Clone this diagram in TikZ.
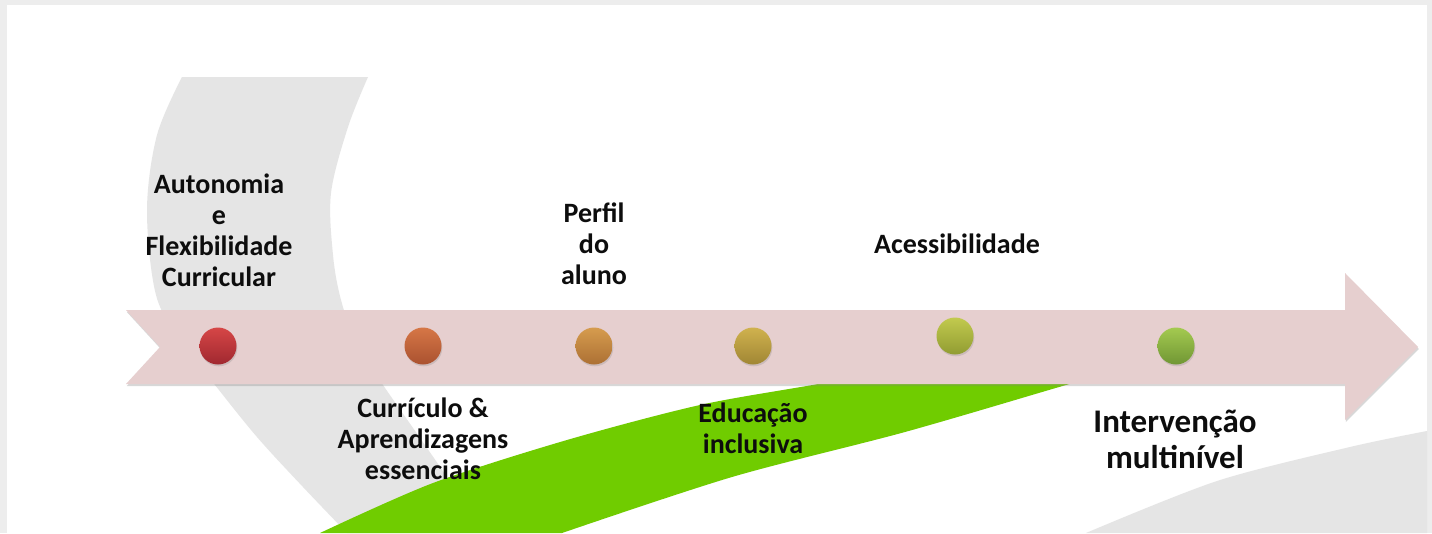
\documentclass[tikz,border=0pt]{standalone}
\usepackage{fontspec}
\setmainfont{Carlito}
\usetikzlibrary{shadows}
\definecolor{framec}{HTML}{EDEDED}
\definecolor{bandc}{HTML}{E5E5E5}
\definecolor{pinkc}{HTML}{E6CFCF}
\definecolor{greenc}{HTML}{70CC00}
\begin{document}
\begin{tikzpicture}[x=1pt,y=-1pt,
  lbl/.style={font=\fontsize{28}{31}\selectfont\bfseries, align=center, inner sep=0pt, anchor=base, text=black!95},
  biglbl/.style={font=\fontsize{33}{35.7}\selectfont\bfseries, align=center, inner sep=0pt, anchor=base, text=black!95},
  dot/.style={circle, minimum size=37pt, inner sep=0pt,
    drop shadow={shadow xshift=0.8pt, shadow yshift=-1.8pt, opacity=0.25}}]
\useasboundingbox (0,0) rectangle (1432,533);
% frame
\fill[framec] (0,0) rectangle (1432,533);
\fill[white] (7,5) rectangle (1427,533);
% upper-left grey band
\fill[bandc] plot[smooth,tension=0.55] coordinates {(182,77) (157,135) (147,210) (156,295) (182,343) (215,385) (257,437) (303,487) (347,533)}
  -- plot[smooth,tension=0.55] coordinates {(480,533) (450,482) (420,438) (383,385) (357,345) (341,300) (333,255) (331,193) (348,127) (368,77)} -- cycle;
% lower-right grey band
\fill[bandc] plot[smooth,tension=0.5] coordinates {(1086,533) (1217,481) (1350,447) (1427,431)} -- (1427,533) -- cycle;
% green band
\fill[greenc] plot[smooth,tension=0.5] coordinates {(320,533) (433,483) (567,440) (700,405) (818,384) (900,368)}
  -- (1100,350) -- plot[smooth,tension=0.5] coordinates {(1110,373) (1066,385) (905,432) (732,477) (562,533)} -- cycle;
% arrow
\path[fill=pinkc, drop shadow={shadow xshift=0.8pt, shadow yshift=-2pt, opacity=0.3}]
  (126,310) coordinate (aTL) -- (1345,310) -- (1345,273) -- (1418,347) coordinate (aTip) -- (1345,420) -- (1345,384) -- (126,384) -- (160,347) coordinate (aNotch) -- cycle;
% dots
\node[dot, top color={rgb,255:red,214;green,70;blue,70}, bottom color={rgb,255:red,160;green,40;blue,48}] (d1) at (218,346) {};
\node[dot, top color={rgb,255:red,214;green,118;blue,70}, bottom color={rgb,255:red,170;green,82;blue,48}] (d2) at (423,346) {};
\node[dot, top color={rgb,255:red,214;green,156;blue,78}, bottom color={rgb,255:red,172;green,112;blue,52}] (d3) at (594,346) {};
\node[dot, top color={rgb,255:red,208;green,178;blue,78}, bottom color={rgb,255:red,160;green,134;blue,52}] (d4) at (753,346) {};
\node[dot, top color={rgb,255:red,194;green,202;blue,78}, bottom color={rgb,255:red,145;green,156;blue,50}] (d5) at (955,336) {};
\node[dot, top color={rgb,255:red,164;green,202;blue,80}, bottom color={rgb,255:red,112;green,150;blue,52}] (d6) at (1176,346) {};
% labels (base anchor = baseline of the last line)
\node[lbl] (t1) at (219,286) {Autonomia\\e\\Flexibilidade\\Curricular};
\node[lbl] (t3) at (594,284) {Perfil\\do\\aluno};
\node[lbl] (t5) at (957,253) {Acessibilidade};
\node[lbl] (t2) at (423,479) {Currículo \&\\Aprendizagens\\essenciais};
\node[lbl] (t4) at (753,453.5) {Educação\\inclusiva};
\node[biglbl] (t6) at (1175,468.5) {Intervenção\\multinível};
\end{tikzpicture}
\end{document}
